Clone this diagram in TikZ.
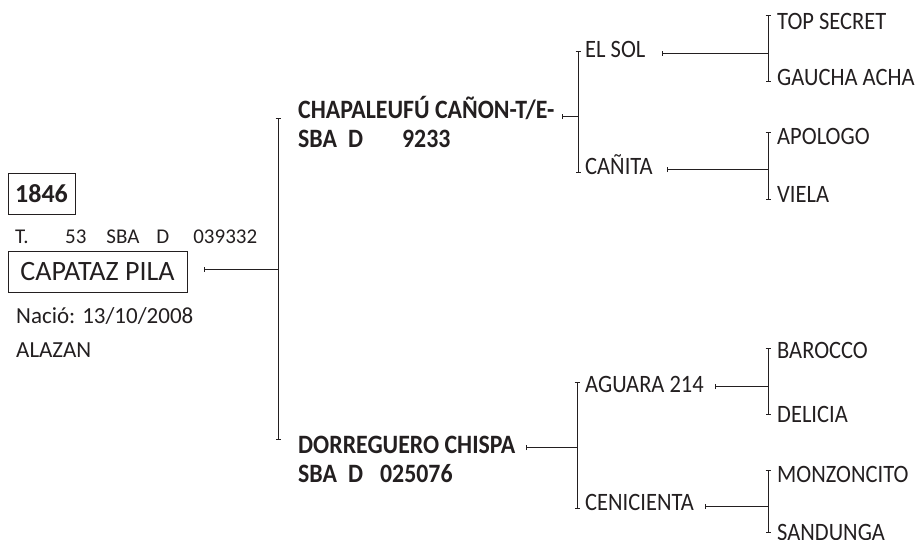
\documentclass[tikz,border=0pt]{standalone}
\usepackage{fontspec}
\setmainfont{Carlito}
\newfontfamily\narrowfont{Carlito}[FakeStretch=0.9]
\usetikzlibrary{arrows.meta}
\definecolor{ink}{RGB}{35,31,32}
\newcommand{\horsefont}{\narrowfont\fontsize{25}{30}\selectfont}
\newcommand{\sirefont}{\narrowfont\fontsize{26.5}{32}\selectfont\bfseries}
\newcommand{\regfont}{\fontsize{21}{25}\selectfont}
\newcommand{\infofont}{\fontsize{23}{28}\selectfont}
\tikzset{
  horse/.style={font=\horsefont, text=ink, inner sep=0pt, anchor=base west},
  sire/.style={horse, font=\sirefont},
  info/.style={horse, font=\infofont},
  namebox/.style={draw=ink, line width=0.8pt, text=ink, inner sep=0pt},
  link/.style={draw=ink, line width=0.8pt, {Bar[width=5pt]}-},
  bracket/.style={draw=ink, line width=0.8pt, {Bar[width=5pt]}-{Bar[width=5pt]}},
}
\begin{document}
\begin{tikzpicture}[x=1pt,y=-1pt]
\useasboundingbox (0,0) rectangle (923,539);
% the horse
\node[namebox, font=\fontsize{26}{30}\selectfont\bfseries, minimum width=67pt, minimum height=41pt] (num) at (41.5,193.5) {1846};
\node[horse, font=\regfont] (reg) at (15,243) {T.\hspace{36.5pt}53\hspace{20pt}SBA\hspace{17pt}D\hspace{24pt}039332};
\node[namebox, font=\fontsize{28}{32}\selectfont, minimum width=179pt, minimum height=41pt] (capataz) at (97.5,271.5) {CAPATAZ PILA};
\node[info] (born) at (16,323) {Nació: 13/10/2008};
\node[info] (coat) at (16,357) {ALAZAN};
% parents
\node[sire] (chapa) at (298,118) {CHAPALEUFÚ CAÑON-T/E-};
\node[sire] (chapareg) at (298,147) {SBA\hspace{11pt}D\hspace{39pt}9233};
\node[sire] (dorre) at (298,453) {DORREGUERO CHISPA};
\node[sire] (dorrereg) at (298,482) {SBA\hspace{11pt}D\hspace{17pt}025076};
% grandparents
\node[horse] (elsol) at (585,57) {EL SOL};
\node[horse] (canita) at (585,174) {CAÑITA};
\node[horse] (aguara) at (585,392) {AGUARA 214};
\node[horse] (ceni) at (585,510) {CENICIENTA};
% great-grandparents
\node[horse] (topsecret) at (777,29) {TOP SECRET};
\node[horse] (gaucha) at (777,85) {GAUCHA ACHA};
\node[horse] (apologo) at (777,144) {APOLOGO};
\node[horse] (viela) at (777,202) {VIELA};
\node[horse] (barocco) at (777,358) {BAROCCO};
\node[horse] (delicia) at (777,422) {DELICIA};
\node[horse] (monzon) at (777,482) {MONZONCITO};
\node[horse] (sandunga) at (777,540) {SANDUNGA};
% brackets
\coordinate (b1t) at (278,118); \coordinate (b1b) at (278,440);
\coordinate (b2t) at (578,51);  \coordinate (b2b) at (578,173);
\coordinate (b3t) at (577,382); \coordinate (b3b) at (577,509);
\coordinate (b4t) at (768,15);  \coordinate (b4b) at (768,82);
\coordinate (b5t) at (768,132); \coordinate (b5b) at (768,200);
\coordinate (b6t) at (768,348); \coordinate (b6b) at (768,415);
\coordinate (b7t) at (768,470); \coordinate (b7b) at (768,533);
\foreach \b in {b1,b2,b3,b4,b5,b6,b7}
  \draw[bracket] (\b t) -- (\b b);
% links to the brackets
\draw[link] ([xshift=17pt,yshift=2.5pt]capataz.east) -- ([yshift=2.5pt]capataz.east -| b1t);
\draw[link] ([xshift=7pt,yshift=-1pt]chapa.mid east) -- ([yshift=-1pt]chapa.mid east -| b2t);
\draw[link] ([xshift=10pt,yshift=3pt]dorre.mid east) -- ([yshift=3pt]dorre.mid east -| b3t);
\draw[link] ([xshift=16pt,yshift=1.5pt]elsol.mid east) -- ([yshift=1.5pt]elsol.mid east -| b4t);
\draw[link] ([xshift=14pt,yshift=2pt]canita.mid east) -- ([yshift=2pt]canita.mid east -| b5t);
\draw[link] ([xshift=11pt,yshift=3pt]aguara.mid east) -- ([yshift=3pt]aguara.mid east -| b6t);
\draw[link] ([xshift=11pt,yshift=1.5pt]ceni.mid east) -- ([yshift=1.5pt]ceni.mid east -| b7t);
\end{tikzpicture}
\end{document}
